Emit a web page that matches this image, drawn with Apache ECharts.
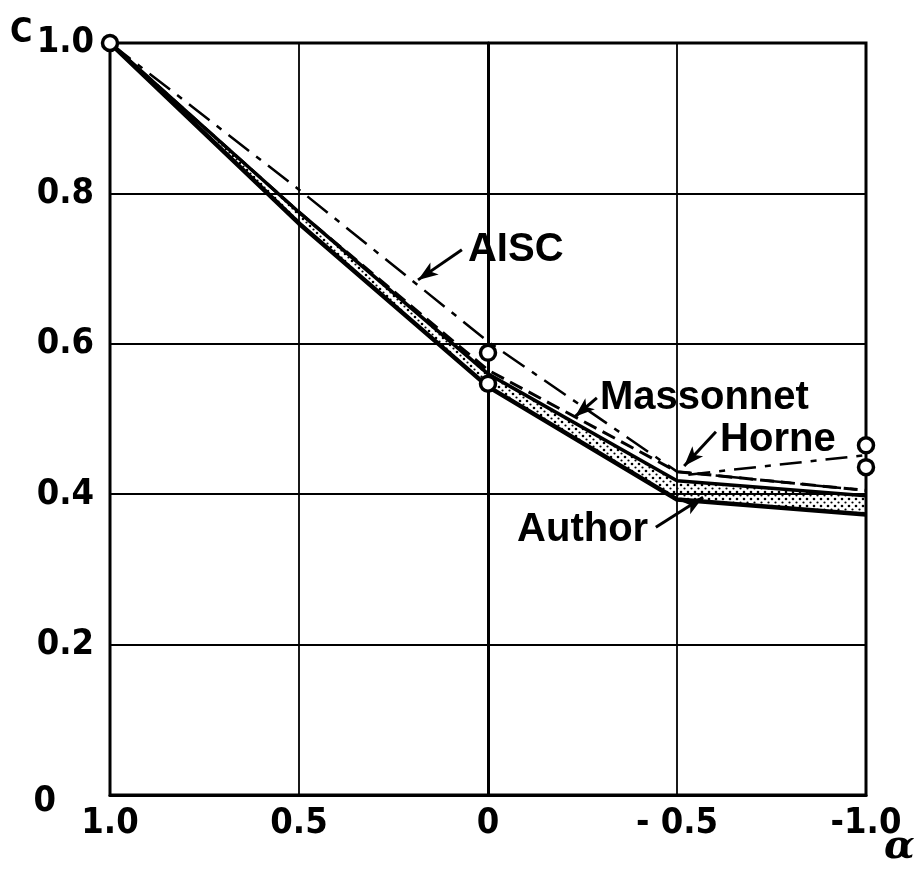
<!DOCTYPE html>
<html><head><meta charset="utf-8">
<script src="https://cdn.jsdelivr.net/npm/echarts@6/dist/echarts.min.js"></script>
<style>html,body{margin:0;padding:0;background:#fff}#c{width:920px;height:870px}</style>
</head><body><div id="c"></div>
<script>
// ---- data ----
const alpha = [1.0, 0.5, 0.0, -0.5, -1.0];
const aisc = [1.0, 0.805, 0.603, 0.43, 0.405];
const massonnet = [1.0, 0.775, 0.565, 0.43, 0.405];
const horneAlpha = [-0.53, -1.0];
const horne = [0.426, 0.452];
const authorUpper = [1.0, 0.775, 0.56, 0.418, 0.398];
const authorLower = [1.0, 0.76, 0.543, 0.393, 0.373];
const circleAlpha = [1.0, 0.0, 0.0, -1.0, -1.0];
const circleC = [1.0, 0.588, 0.547, 0.465, 0.436];
const xTickValues = [1.0, 0.5, 0.0, -0.5, -1.0];
const xTickLabels = ['1.0', '0.5', '0', '- 0.5', '-1.0'];
const yTickValues = [0, 0.2, 0.4, 0.6, 0.8, 1.0];
const yTickLabels = ['{z|0}', '0.2', '0.4', '0.6', '0.8', '1.0'];
const labelNames = ['AISC', 'Massonnet', 'Horne', 'Author'];

// annotation placement (data space)
const labelAt = [[0.053, 0.725], [-0.296, 0.528], [-0.614, 0.472], [-0.077, 0.352]];
const arrows = [
  [[0.069, 0.725], [0.185, 0.685]],
  [[-0.288, 0.528], [-0.230, 0.503]],
  [[-0.603, 0.483], [-0.519, 0.4375]],
  [[-0.444, 0.356], [-0.569, 0.396]]
];

const zip = (xs, ys) => xs.map((x, i) => [x, ys[i]]);
const bandSegs = alpha.slice(0, -1).map((a, i) =>
  [a, authorUpper[i], authorLower[i], alpha[i + 1], authorUpper[i + 1], authorLower[i + 1]]);

// dotted pattern
const pat = document.createElement('canvas');
pat.width = 7; pat.height = 7;
const pc = pat.getContext('2d');
pc.fillStyle = '#000';
pc.beginPath(); pc.arc(2, 2, 1.3, 0, Math.PI * 2); pc.fill();
pc.beginPath(); pc.arc(5.5, 5.5, 1.1, 0, Math.PI * 2); pc.fill();

const FONT = '"DejaVu Sans Condensed", "DejaVu Sans", sans-serif';
const chart = echarts.init(document.getElementById('c'), null, {renderer: 'canvas'});
const lbl = (vals, labs) => v => { const i = vals.findIndex(t => Math.abs(t - v) < 1e-9); return i >= 0 ? labs[i] : ''; };

chart.setOption({
  animation: false,
  backgroundColor: '#fff',
  grid: {left: 110, right: 54, top: 43, bottom: 75, show: true, borderColor: '#000', borderWidth: 3},
  xAxis: {
    type: 'value', inverse: true, min: -1, max: 1, interval: 0.5,
    axisLine: {show: true, lineStyle: {color: '#000', width: 3}},
    axisTick: {show: false},
    splitLine: {show: true, lineStyle: {color: '#000', width: 1.8}},
    axisLabel: {color: '#000', fontFamily: FONT, fontWeight: 'bold', fontSize: 36, margin: 11, formatter: lbl(xTickValues, xTickLabels)}
  },
  yAxis: {
    type: 'value', min: 0, max: 1, interval: 0.2,
    axisLine: {show: true, lineStyle: {color: '#000', width: 3}},
    axisTick: {show: false},
    splitLine: {show: true, lineStyle: {color: '#000', width: 1.8}},
    axisLabel: {color: '#000', fontFamily: FONT, fontWeight: 'bold', fontSize: 36, margin: 16,
      formatter: lbl(yTickValues, yTickLabels),
      rich: {z: {fontFamily: FONT, fontWeight: 'bold', fontSize: 36, color: '#000', padding: [14, 38, 0, 0]}}}
  },
  series: [
    {name: 'AuthorBand', type: 'custom', data: bandSegs, z: 2,
      encode: {x: [0, 3], y: [1, 2, 4, 5]},
      renderItem: (params, api) => {
        const pts = [
          api.coord([api.value(0), api.value(1)]), api.coord([api.value(3), api.value(4)]),
          api.coord([api.value(3), api.value(5)]), api.coord([api.value(0), api.value(2)])
        ];
        return {type: 'polygon', shape: {points: pts}, style: {fill: {image: pat, repeat: 'repeat'}, stroke: null}};
      }},
    {name: 'AuthorLow', type: 'line', data: zip(alpha, authorLower), symbol: 'none',
      lineStyle: {color: '#000', width: 4.5}, z: 3},
    {name: 'Author', type: 'line', data: zip(alpha, authorUpper), symbol: 'none',
      lineStyle: {color: '#000', width: 3.5}, z: 3},
    {name: 'Massonnet', type: 'line', data: zip(alpha, massonnet), symbol: 'none',
      lineStyle: {color: '#000', width: 3, type: [14, 7]}, z: 4},
    {name: 'AISC', type: 'line', data: zip(alpha, aisc), symbol: 'none',
      lineStyle: {color: '#000', width: 2.5, type: [26, 9, 6, 9]}, z: 4},
    {name: 'Horne', type: 'line', data: zip(horneAlpha, horne), symbol: 'none',
      lineStyle: {color: '#000', width: 2.5, type: [22, 9, 6, 9]}, z: 4,
      markLine: {
        silent: true, symbol: ['none', 'arrow'], symbolSize: [11, 20],
        lineStyle: {color: '#000', width: 3, type: 'solid'}, label: {show: false},
        data: arrows.map(a => [{coord: a[0]}, {coord: a[1]}])
      }},
    {name: 'points', type: 'scatter', data: zip(circleAlpha, circleC), symbol: 'circle', symbolSize: 15,
      itemStyle: {color: '#fff', borderColor: '#000', borderWidth: 3.5, opacity: 1}, z: 6}
  ]
});

const g = labelNames.map((t, i) => {
  const p = chart.convertToPixel({gridIndex: 0}, labelAt[i]);
  return {type: 'text', x: p[0], y: p[1], z: 100,
    style: {text: t, fill: '#000', font: 'bold 40px "Liberation Sans", Arial, sans-serif', verticalAlign: 'middle'}};
});
g.push({type: 'text', left: 10, top: 16, style: {text: 'C', fill: '#000', font: 'bold 34px "DejaVu Sans Condensed", sans-serif'}});
g.push({type: 'text', left: 884, top: 828, style: {text: 'α', fill: '#000', font: 'italic bold 40px "DejaVu Serif", serif'}});
chart.setOption({graphic: g});
</script></body></html>
